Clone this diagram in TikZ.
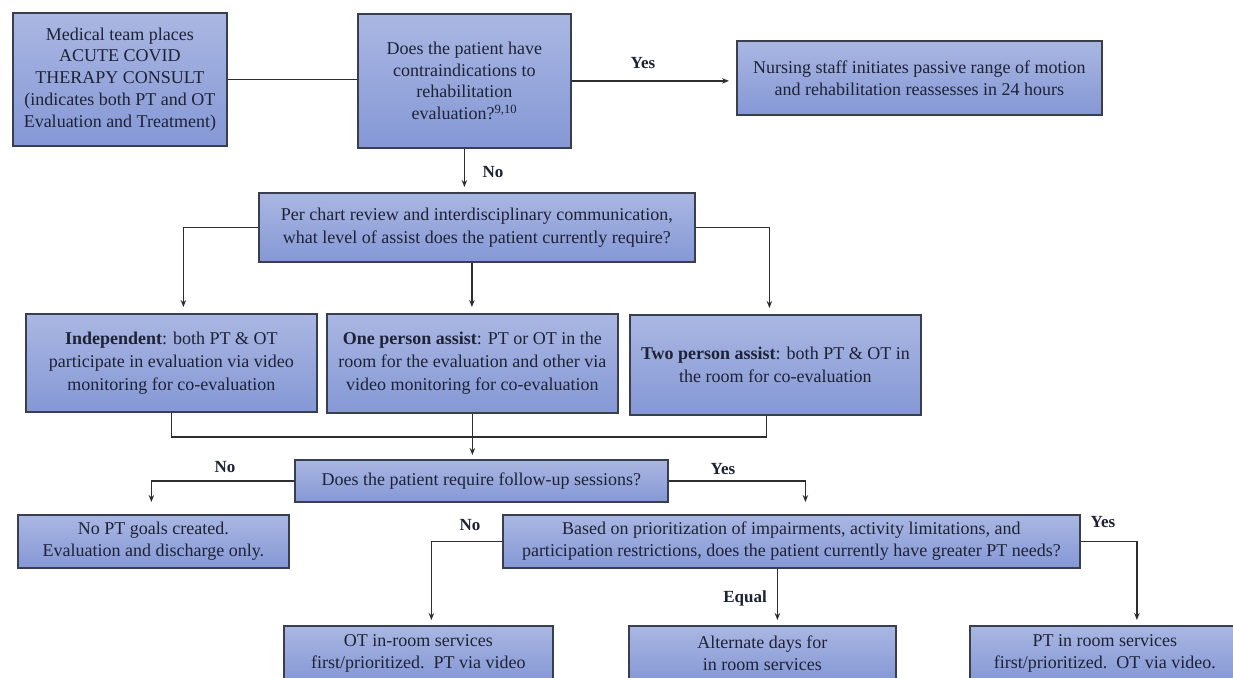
\documentclass[tikz,border=0pt]{standalone}
\usepackage{fontspec}
\setmainfont{Liberation Serif}
\usetikzlibrary{arrows.meta,calc}
\definecolor{boxtop}{HTML}{AAB7E2}
\definecolor{boxbot}{HTML}{8598D6}
\definecolor{boxline}{HTML}{3A3F4E}
\definecolor{txt}{HTML}{1E2235}
\definecolor{conn}{HTML}{2E2E2E}
\begin{document}
\begin{tikzpicture}[x=1pt,y=-1pt,
 box/.style={draw=boxline, line width=1.8pt, top color=boxtop, bottom color=boxbot, anchor=north west, align=center, inner sep=0pt, font=\fontsize{18}{21.8}\selectfont, text=txt},
 conn/.style={draw=conn, line width=1.5pt},
 arr/.style={conn, -{Stealth[length=7pt,width=5.5pt]}},
 lbl/.style={font=\fontsize{17}{20}\selectfont\bfseries, text=txt}]
\useasboundingbox (0,0) rectangle (1233,677);
\clip (0,0) rectangle (1233,677);
\fill[white] (0,0) rectangle (1233,677);

\node[box, minimum width=214pt, minimum height=133pt] (A) at (12,12) {Medical team places\\ ACUTE COVID\\ THERAPY CONSULT\\ (indicates both PT and OT\\ Evaluation and Treatment)};
\node[box, minimum width=213pt, minimum height=134pt] (B) at (357,13) {Does the patient have\\ contraindications to\\ rehabilitation\\ evaluation?\textsuperscript{9,10}};
\node[box, minimum width=365pt, minimum height=74pt] (C) at (736,40) {Nursing staff initiates passive range of motion\\ and rehabilitation reassesses in 24 hours};
\node[box, minimum width=436pt, minimum height=69pt, font=\fontsize{18}{23}\selectfont] (D) at (258,192) {Per chart review and interdisciplinary communication,\\ what level of assist does the patient currently require?};
\node[box, minimum width=291pt, minimum height=98pt, font=\fontsize{18}{23}\selectfont] (E) at (25,313) {\textbf{Independent}: both PT \& OT\\ participate in evaluation via video\\ monitoring for co-evaluation};
\node[box, minimum width=291pt, minimum height=99pt, font=\fontsize{18}{23}\selectfont] (F) at (326,313) {\textbf{One person assist}: PT or OT in the\\ room for the evaluation and other via\\ video monitoring for co-evaluation};
\node[box, minimum width=291pt, minimum height=100pt, font=\fontsize{18}{23}\selectfont] (G) at (629,314) {\textbf{Two person assist}: both PT \& OT in\\ the room for co-evaluation};
\node[box, minimum width=373pt, minimum height=42pt] (H) at (294,459) {Does the patient require follow-up sessions?};
\node[box, minimum width=271pt, minimum height=53pt] (I) at (17,514) {No PT goals created.\\ Evaluation and discharge only.};
\node[box, minimum width=577pt, minimum height=53pt] (J) at (502,514) {Based on prioritization of impairments, activity limitations, and\\ participation restrictions, does the patient currently have greater PT needs?};
\node[box, minimum width=269pt, minimum height=55pt] (K) at (283,625) {OT in-room services\\ first/prioritized.\ \ PT via video};
\node[box, minimum width=267pt, minimum height=55pt] (L) at (628,625) {Alternate days for\\ in room services};
\node[box, minimum width=270pt, minimum height=55pt] (M) at (969,625) {PT in room services\\ first/prioritized.\ \ OT via video.};

\draw[conn] (A.east) -- (A.east -| B.west);
\draw[arr, shorten >=7pt] (B.east) -- (B.east -| C.west);
\draw[arr, shorten >=5pt] (B.south) -- (B.south |- D.north);
\draw[arr, shorten >=6pt] (D.west) -| ([xshift=12pt]E.north);
\draw[arr, shorten >=6pt] ([xshift=-5pt]D.south) -- ([xshift=-5pt]D.south |- F.north);
\draw[arr, shorten >=6pt] (D.east) -| ([xshift=-6pt]G.north);
\coordinate (m) at (471,437);
\draw[conn] (E.south) |- (m);
\draw[conn] ([xshift=-9pt]G.south) |- (m);
\draw[arr, shorten >=4pt] (F.south) -- (F.south |- H.north);
\draw[arr, shorten >=12pt] (H.west) -| ([xshift=-2pt]I.north);
\draw[arr, shorten >=12pt] (H.east) -| ([xshift=14pt]J.north);
\draw[arr, shorten >=5pt] (J.west) -| ([xshift=13pt]K.north);
\draw[arr, shorten >=5pt] ([xshift=-14pt]J.south) -- ([xshift=-14pt]J.south |- L.north);
\draw[arr, shorten >=5pt] (J.east) -| ([xshift=32pt]M.north);

\node[lbl] (yes1) at (643,63) {Yes};
\node[lbl] (no1) at (493,172) {No};
\node[lbl] (no2) at (225,467) {No};
\node[lbl] (yes2) at (723,469) {Yes};
\node[lbl] (no3) at (470,525) {No};
\node[lbl] (eq) at (745,598) {Equal};
\node[lbl] (yes3) at (1103,522) {Yes};
\end{tikzpicture}
\end{document}
